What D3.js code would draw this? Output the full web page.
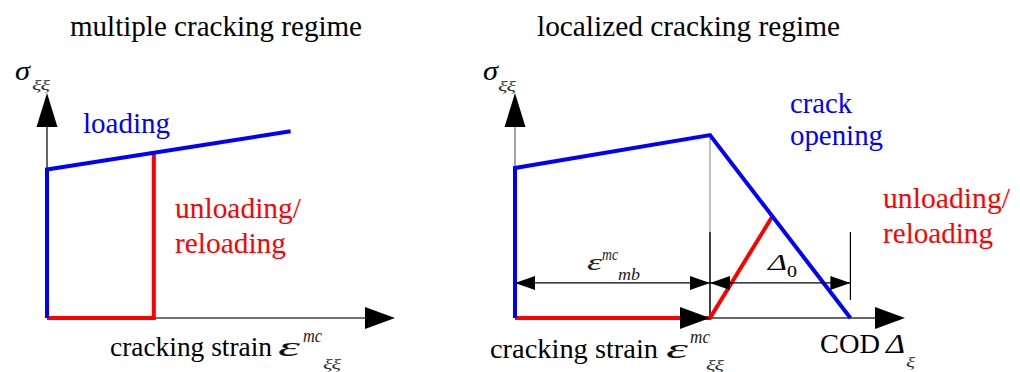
<!DOCTYPE html>
<html>
<head>
<meta charset="utf-8">
<script src="https://cdn.jsdelivr.net/npm/d3@7"></script>
<style>
  body { margin: 0; background: #fff; }
  svg { display: block; }
  text { font-family: "Liberation Serif", "Times New Roman", "DejaVu Serif", serif; }
</style>
</head>
<body>
<svg id="chart" width="1020" height="372"></svg>
<script>
// ---- Data (dimensionless strain / stress units on a 0–100 scale) ----
// Multiple cracking regime
const leftLoadingStrain = [0, 0, 70];
const leftLoadingStress = [0, 66, 83];
const leftUnloadStrain  = [0, 30.7, 30.7];
const leftUnloadStress  = [0, 0, 73.5];

// Localized cracking regime (strain up to crack start, then COD)
const rightLoadingX      = [0, 0, 50, 86];
const rightLoadingStress = [0, 66.7, 81.3, 0];
const rightUnloadX       = [0, 50, 66];
const rightUnloadStress  = [0, 0, 45.2];

const crackStartX  = 50;    // ε_mb^mc
const codEndX      = 86;    // Δ0 end
const dimStress    = 15.6;  // level of the dimension lines
const extTop       = 38.2;  // top of the dimension extension lines
const extBottomEnd = 8;

const titles = ["multiple cracking regime", "localized cracking regime"];

// ---- Scales ----
const yS = d3.scaleLinear().domain([0, 100]).range([318, 93]);
const xL = d3.scaleLinear().domain([0, 100]).range([47, 395]);
const xR = d3.scaleLinear().domain([0, 100]).range([515, 905]);

const svg = d3.select("#chart");
const BLUE = "#0000ff", RED = "#ff0000";

function pts(xs, ys) { return xs.map((x, i) => [x, ys[i]]); }

function txt(x, y, s, o) {
  const t = svg.append("text")
    .attr("x", x).attr("y", y).text(s)
    .attr("font-size", o.size)
    .attr("fill", o.color || "#000");
  if (o.italic) t.attr("font-style", "italic");
  if (o.width) t.attr("textLength", o.width).attr("lengthAdjust", "spacingAndGlyphs");
  return t;
}

// filled triangle arrowhead: tip at (tx,ty), pointing in direction dir
function arrowHead(tx, ty, dir, len, half) {
  let p;
  if (dir === "up")    p = [[tx, ty], [tx - half, ty + len], [tx + half, ty + len]];
  if (dir === "right") p = [[tx, ty], [tx - len, ty - half], [tx - len, ty + half]];
  if (dir === "left")  p = [[tx, ty], [tx + len, ty - half], [tx + len, ty + half]];
  svg.append("path").attr("d", "M" + p.join("L") + "Z").attr("fill", "#000");
}

function seg(x1, y1, x2, y2, color, w) {
  svg.append("line").attr("x1", x1).attr("y1", y1).attr("x2", x2).attr("y2", y2)
    .attr("stroke", color).attr("stroke-width", w);
}

// ---- Left panel: axes ----
seg(xL(0), yS(0), xL(0), yS(100) + 30, "#333", 1.5);
arrowHead(xL(0), yS(100), "up", 34, 10.5);
seg(xL(0), yS(0), xL(100) - 25, yS(0), "#444", 1.5);
arrowHead(xL(100), yS(0), "right", 30, 11);

const lineL = d3.line().x(d => xL(d[0])).y(d => yS(d[1]));
svg.append("path").attr("d", lineL(pts(leftUnloadStrain, leftUnloadStress)))
  .attr("fill", "none").attr("stroke", RED).attr("stroke-width", 4).attr("stroke-linejoin", "miter");
svg.append("path").attr("d", lineL(pts(leftLoadingStrain, leftLoadingStress)))
  .attr("fill", "none").attr("stroke", BLUE).attr("stroke-width", 4).attr("stroke-linejoin", "miter");

// ---- Right panel: axes ----
seg(xR(0), yS(0), xR(0), yS(100) + 30, "#888", 1.5);
arrowHead(xR(0), yS(100), "up", 34, 10.5);
seg(xR(0), yS(0), xR(100) - 25, yS(0), "#333", 1.5);
arrowHead(xR(100), yS(0), "right", 30, 11);

// thin vertical guide from the peak down to the crack start
seg(xR(crackStartX), yS(rightLoadingStress[2]), xR(crackStartX), yS(extTop), "#aaa", 1.5);
// dimension extension lines
seg(xR(crackStartX), yS(extTop), xR(crackStartX), yS(0), "#000", 1.5);
seg(xR(codEndX), yS(extTop), xR(codEndX), yS(extBottomEnd), "#000", 1.2);

const lineR = d3.line().x(d => xR(d[0])).y(d => yS(d[1]));
svg.append("path").attr("d", lineR(pts(rightUnloadX, rightUnloadStress)))
  .attr("fill", "none").attr("stroke", RED).attr("stroke-width", 4).attr("stroke-linejoin", "miter");
svg.append("path").attr("d", lineR(pts(rightLoadingX, rightLoadingStress)))
  .attr("fill", "none").attr("stroke", BLUE).attr("stroke-width", 4).attr("stroke-linejoin", "miter");

// arrow closing the strain axis at the crack start
arrowHead(xR(crackStartX), yS(0), "right", 30, 11);

// dimension lines: ε_mb and Δ0
const yd = yS(dimStress);
seg(xR(0), yd, xR(crackStartX), yd, "#000", 1.2);
arrowHead(xR(0), yd, "left", 20, 7);
arrowHead(xR(crackStartX), yd, "right", 20, 7);
seg(xR(crackStartX), yd, xR(codEndX), yd, "#000", 1.2);
arrowHead(xR(crackStartX), yd, "left", 20, 7);
arrowHead(xR(codEndX), yd, "right", 20, 7);

// ---- Text ----
txt(70, 36, titles[0], { size: 29, width: 292 });
txt(537, 36, titles[1], { size: 29, width: 303 });

// stress axis labels
txt(15, 80, "σ", { size: 28, italic: true, width: 15 });
txt(32, 90, "ξξ", { size: 15, italic: true, width: 18, color: "#333" });
txt(483, 80, "σ", { size: 28, italic: true, width: 15 });
txt(498, 91, "ξξ", { size: 15, italic: true, width: 18, color: "#333" });

// curve labels
txt(83, 133, "loading", { size: 29, width: 87, color: BLUE });
txt(175, 218, "unloading/", { size: 29, width: 126, color: RED });
txt(175, 253, "reloading", { size: 29, width: 111, color: RED });
txt(790, 113, "crack", { size: 29, width: 62, color: BLUE });
txt(790, 145, "opening", { size: 29, width: 93, color: BLUE });
txt(883, 208, "unloading/", { size: 29, width: 127, color: RED });
txt(883, 243, "reloading", { size: 29, width: 110, color: RED });

// strain axis labels
txt(110, 356, "cracking strain", { size: 28, width: 162 });
txt(278, 356, "ε", { size: 28, italic: true, width: 22, color: "#111" });
txt(303, 342, "mc", { size: 19, italic: true, width: 19, color: "#222" });
txt(323, 369, "ξξ", { size: 15, italic: true, width: 18, color: "#333" });

txt(490, 358, "cracking strain", { size: 28, width: 168 });
txt(666, 358, "ε", { size: 28, italic: true, width: 22, color: "#111" });
txt(690, 343, "mc", { size: 19, italic: true, width: 20, color: "#222" });
txt(706, 370, "ξξ", { size: 15, italic: true, width: 18, color: "#333" });

// COD axis label
txt(820, 353, "COD", { size: 28, width: 60 });
txt(886, 353, "Δ", { size: 28, italic: true, width: 19 });
txt(906, 367, "ξ", { size: 15, italic: true, width: 9, color: "#333" });

// dimension labels
txt(587, 270, "ε", { size: 24, italic: true, width: 15, color: "#222" });
txt(602, 260, "mc", { size: 17, italic: true, width: 16, color: "#222" });
txt(618, 280, "mb", { size: 17, italic: true, width: 22, color: "#222" });
txt(768, 270, "Δ", { size: 24, italic: true, width: 19 });
txt(787, 277, "0", { size: 17, width: 10 });
</script>
</body>
</html>
